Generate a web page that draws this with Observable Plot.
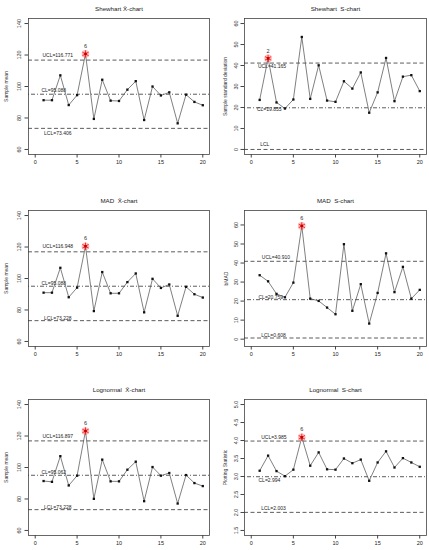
<!DOCTYPE html>
<html><head><meta charset="utf-8">
<script src="https://cdn.jsdelivr.net/npm/d3@7"></script>
<script src="https://cdn.jsdelivr.net/npm/@observablehq/plot@0.6"></script>
<style>
body{margin:0;background:#fff;overflow:hidden}
#wrap{position:relative;width:429px;height:550px;overflow:hidden;background:#fff}
#wrap svg{position:absolute}
</style></head><body><div id="wrap"></div>
<script>
// ---- data ----
const sampleNo = [1,2,3,4,5,6,7,8,9,10,11,12,13,14,15,16,17,18,19,20];
const xTicks = [0,5,10,15,20];

const shewhartXbar = [91.3,91.3,107.1,88.2,94.5,120.7,79.4,104.3,91.0,90.8,98.0,103.4,78.7,100.0,94.3,96.3,76.6,94.8,90.2,88.1];
const madXbar      = [91.0,91.0,106.8,88.1,94.2,120.5,79.3,104.1,90.6,90.6,97.7,103.2,78.5,99.8,94.0,96.2,76.3,94.7,90.0,87.9];
const lognormalXbar= [91.4,90.9,107.2,88.6,94.8,123.2,80.1,105.0,91.2,91.2,98.6,103.7,78.6,100.3,94.8,96.5,77.1,95.2,90.1,88.2];
const shewhartS    = [23.6,43.4,22.4,19.5,23.8,53.6,24.1,40.1,23.3,22.7,32.5,29.0,36.7,17.5,27.2,43.6,23.0,34.7,35.4,27.8];
const madS         = [33.6,30.4,23.8,22.0,29.7,59.5,21.3,20.1,16.6,13.1,49.9,14.9,28.9,8.2,24.3,45.1,24.7,38.0,21.3,25.9];
const lognormalS   = [3.16,3.58,3.15,3.01,3.19,4.09,3.30,3.67,3.20,3.19,3.50,3.37,3.47,2.88,3.39,3.70,3.25,3.51,3.39,3.27];

const shewhartXbarLimits = [116.771, 95.088, 73.406];
const madXbarLimits      = [116.948, 95.088, 73.228];
const lognormalXbarLimits= [116.897, 95.062, 73.228];
const shewhartSLimits    = [41.165, 19.855, 0];
const madSLimits         = [40.910, 20.759, 0.608];
const lognormalSLimits   = [3.985, 2.994, 2.003];

const shewhartXbarLabels = ["UCL=116.771","CL=95.088","LCL=73.406"];
const madXbarLabels      = ["UCL=116.948","CL=95.088","LCL=73.228"];
const lognormalXbarLabels= ["UCL=116.897","CL=95.062","LCL=73.228"];
const shewhartSLabels    = ["UCL=41.165","CL=19.855","LCL"];
const madSLabels         = ["UCL=40.910","CL=20.759","LCL=0.608"];
const lognormalSLabels   = ["UCL=3.985","CL=2.994","LCL=2.003"];

const xbarTicks = [60,80,100,120,140];
const sTicks = [0,10,20,30,40,50,60];
const logSTicks = [1.5,2.0,2.5,3.0,3.5,4.0,4.5,5.0];

// ---- layout (positions / styles) ----
const FONT = "'Liberation Sans', Arial, Helvetica, sans-serif";
const dashes = ["4,2.5","1,2,4,2","4,2.5"];

const panels = [
  {left:0, top:0, width:214, ml:28, mr:5, title:"Shewhart X\u0304-chart", ylabel:"Sample mean",
   values:shewhartXbar, limits:shewhartXbarLimits, labels:shewhartXbarLabels, ticks:xbarTicks, fmt:d=>String(d),
   yDomain:[56.8,143.2], flag:5, labX:[0.86,0.74,1.06], labDy:[-5,-3.5,5.5], flagDy:-8, ylDx:-22, ytDx:-9.4},
  {left:214, top:0, width:215, ml:30, mr:3, title:"Shewhart  S-chart", ylabel:"Sample standard deviation",
   values:shewhartS, limits:shewhartSLimits, labels:shewhartSLabels, ticks:sTicks, fmt:d=>String(d),
   yDomain:[-2.4,62.4], flag:1, labX:[0.79,0.67,1.06], labDy:[3,2,-5.5], flagDy:-7, ylDx:-19, ytDx:-8},
  {left:0, top:191.5, width:214, ml:28, mr:5, title:"MAD  X\u0304-chart", ylabel:"Sample mean",
   values:madXbar, limits:madXbarLimits, labels:madXbarLabels, ticks:xbarTicks, fmt:d=>String(d),
   yDomain:[56.8,143.2], flag:5, labX:[0.86,0.74,1.06], labDy:[-5,-3,-2.5], flagDy:-8, ylDx:-22, ytDx:-9.4},
  {left:214, top:191.5, width:215, ml:30, mr:3, title:"MAD  S-chart", ylabel:"bMAD",
   values:madS, limits:madSLimits, labels:madSLabels, ticks:sTicks, fmt:d=>String(d),
   yDomain:[-3.85,67.6], flag:5, labX:[1.26,0.86,1.18], labDy:[-4.3,-2.3,-2.3], flagDy:-8, ylDx:-18.5, ytDx:-8},
  {left:0, top:381.3, width:214, ml:28, mr:5, title:"Lognormal  X\u0304-chart", ylabel:"Sample mean",
   values:lognormalXbar, limits:lognormalXbarLimits, labels:lognormalXbarLabels, ticks:xbarTicks, fmt:d=>String(d),
   yDomain:[56.8,143.2], flag:5, labX:[0.86,0.74,1.06], labDy:[-4.7,-3,-2.3], flagDy:-8, ylDx:-22, ytDx:-9.4},
  {left:214, top:381.3, width:215, ml:30, mr:3, title:"Lognormal  S-chart", ylabel:"Plotting Statistic",
   values:lognormalS, limits:lognormalSLimits, labels:lognormalSLabels, ticks:logSTicks, fmt:d=>d.toFixed(1),
   yDomain:[1.36,5.14], flag:5, labX:[1.18,0.86,1.18], labDy:[-4,3.7,-4], flagDy:-8, ylDx:-19, ytDx:-8}
];

const wrap = document.getElementById("wrap");

for (const p of panels) {
  const pts = sampleNo.map((s,i)=>({x:s, y:p.values[i]}));
  const flagged = [pts[p.flag]];
  const lims = p.limits.map((v,i)=>({v, text:p.labels[i], x:p.labX[i], dy:p.labDy[i], dash:dashes[i]}));
  const chart = Plot.plot({
    width: p.width, height: 170,
    marginLeft: p.ml, marginRight: p.mr, marginTop: 18, marginBottom: 16,
    x: {domain:[-0.8,20.8]},
    y: {domain:p.yDomain},
    style: {fontFamily: FONT, fontSize: "5.5px", color:"#222", background:"transparent", overflow:"visible"},
    marks: [
      Plot.frame({stroke:"#444", strokeWidth:0.8}),
      Plot.axisX({ticks:xTicks, tickSize:3.5, tickPadding:2.5, label:null, stroke:"#444", fontSize:5.5}),
      Plot.axisY({ticks:p.ticks, tickSize:3.5, tickFormat:()=>"", label:null, stroke:"#444"}),
      Plot.text(p.ticks, {y:d=>d, text:p.fmt, frameAnchor:"left", dx:p.ytDx, rotate:-90, textAnchor:"middle", fontSize:5.5, fill:"#333"}),
      ...lims.map(l => Plot.ruleY([l.v], {stroke:"#333", strokeWidth:0.8, strokeDasharray:l.dash})),
      ...lims.map(l => Plot.text([l], {x:"x", y:"v", text:"text", dy:l.dy, textAnchor:"start", fontSize:5, fill:"#222"})),
      Plot.line(pts, {x:"x", y:"y", stroke:"#555", strokeWidth:0.75}),
      Plot.dot(pts, {x:"x", y:"y", symbol:"square", r:1.3, fill:"#111", stroke:null}),
      Plot.dot(flagged, {x:"x", y:"y", r:3.8, fill:"#ff4040", fillOpacity:0.35, stroke:null}),
      Plot.dot(flagged, {x:"x", y:"y", symbol:"asterisk", r:3.4, stroke:"#ff1a1a", strokeWidth:0.9}),
      Plot.dot(flagged, {x:"x", y:"y", symbol:"square", r:1.3, fill:"#c00000", stroke:null}),
      Plot.text(flagged, {x:"x", y:"y", text:d=>String(sampleNo[p.flag]), dy:p.flagDy, fontSize:5.5, fill:"#333"}),
      Plot.text([p.title], {frameAnchor:"top", dy:-12, fontSize:6.2, fill:"#222"}),
      Plot.text([p.ylabel], {frameAnchor:"left", dx:p.ylDx, rotate:-90, textAnchor:"middle", fontSize:5, fill:"#333"})
    ]
  });
  chart.style.left = p.left + "px";
  chart.style.top = p.top + "px";
  wrap.appendChild(chart);
}
</script>
</body></html>
